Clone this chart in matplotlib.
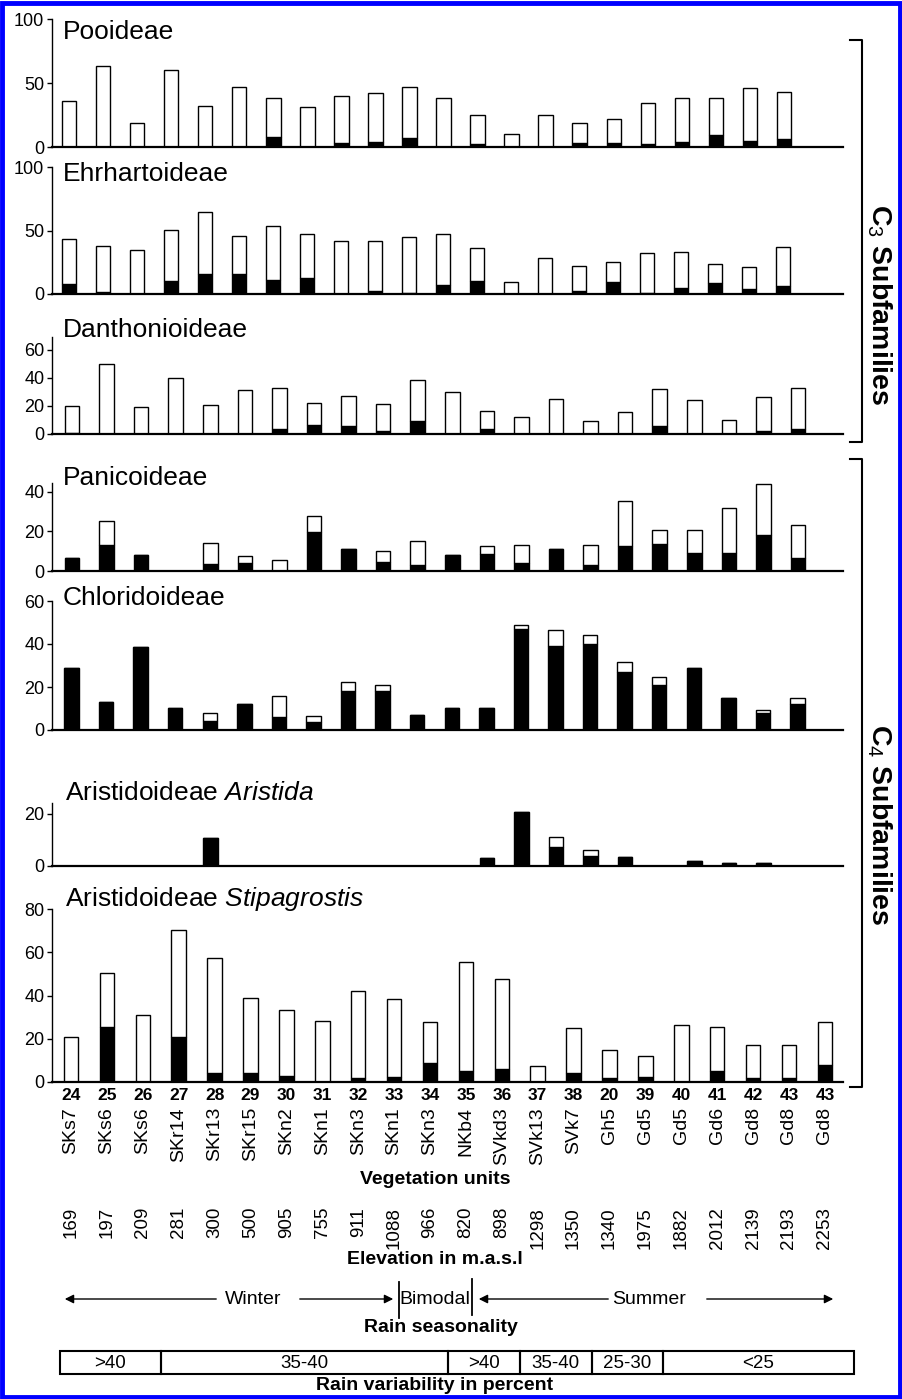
import matplotlib
matplotlib.use('Agg')
import matplotlib.pyplot as plt
import matplotlib.font_manager as fm
import matplotlib.transforms as mtransforms
from matplotlib.patches import Rectangle
import numpy as np

names = {f.name for f in fm.fontManager.ttflist}
base = 'Liberation Sans'
narrow = 'Liberation Sans Narrow' if 'Liberation Sans Narrow' in names else base
plt.rcParams['font.family'] = [base, 'DejaVu Sans']
plt.rcParams['mathtext.fontset'] = 'custom'
plt.rcParams['mathtext.rm'] = base + ':bold'
plt.rcParams['mathtext.bf'] = base + ':bold'

# categories (x axis)
plot_ids = ['24', '25', '26', '27', '28', '29', '30', '31', '32', '33', '34',
            '35', '36', '37', '38', '20', '39', '40', '41', '42', '43', '43']
veg_units = ['SKs7', 'SKs6', 'SKs6', 'SKr14', 'SKr13', 'SKr15', 'SKn2', 'SKn1',
             'SKn3', 'SKn1', 'SKn3', 'NKb4', 'SVkd3', 'SVk13', 'SVk7', 'Gh5',
             'Gd5', 'Gd5', 'Gd6', 'Gd8', 'Gd8', 'Gd8']
elevation = [169, 197, 209, 281, 300, 500, 905, 755, 911, 1088, 966, 820, 898,
             1298, 1350, 1340, 1975, 1882, 2012, 2139, 2193, 2253]

# totals and black (lower) part of each stacked bar
pooi_total = [36, 63, 19, 60, 32, 47, 38, 31, 40, 42, 47, 38, 25, 10, 25, 19, 22, 34, 38, 38, 46, 43]
pooi_black = [0, 0, 0, 0, 0, 0, 8, 0, 3, 4, 7, 0, 2.5, 0, 0, 3.5, 3.5, 2.5, 4, 9, 5, 6]
ehrh_total = [43, 38, 35, 50, 64.5, 46, 53.5, 47.5, 42, 42, 44.5, 47, 36, 9.5, 28.5, 22, 25, 32.5, 33, 23.5, 21.5, 37]
ehrh_black = [8, 1.5, 0, 10.5, 16, 15.5, 11, 12.5, 0, 2.5, 1, 7, 10.5, 0, 0, 2.5, 9.5, 1, 5, 8.5, 4, 6]
dant_total = [20, 50, 19, 40, 20.3, 31, 33, 22, 26.7, 21.3, 38.5, 30, 16.3, 11.8, 24.8, 9.2, 15.8, 32, 24, 10.2, 26.2, 33]
dant_black = [1, 0, 0, 0, 0, 0, 3.3, 6.6, 5.7, 2.4, 9.4, 0, 3.3, 0, 0, 0, 0, 5.7, 0, 0, 2.1, 3.3]
pani_total = [6.8, 25, 8, 0, 14, 7.8, 5.3, 28, 11.2, 10, 15.3, 8.1, 12.5, 13, 11.2, 13, 35.3, 20.8, 20.8, 32, 44, 23]
pani_black = [6.8, 13, 8, 0, 3.4, 4.2, 0, 19.5, 11.2, 4.6, 3.2, 8.1, 8.8, 4.2, 11.2, 2.9, 12.4, 13.6, 9.2, 9.3, 18.3, 6.6]
chlo_total = [29, 12.8, 38.6, 10.2, 7.9, 12, 16, 6.5, 22.3, 20.7, 7.1, 10.2, 10.4, 48.8, 46.4, 44.2, 31.5, 24.7, 28.9, 14.8, 9.1, 14.7]
chlo_black = [29, 12.8, 38.6, 10.2, 4, 12, 5.9, 3.7, 18.2, 18.2, 7.1, 10.2, 10.4, 47.1, 39, 40.2, 27.2, 20.7, 28.9, 14.8, 7.7, 12.2]
aris_total = [0, 0, 0, 0, 10.7, 0, 0, 0, 0, 0, 0, 0, 3, 20.5, 11, 6.1, 3.6, 0, 1.9, 1.2, 1.3, 0]
aris_black = [0, 0, 0, 0, 10.7, 0, 0, 0, 0, 0, 0, 0, 3, 20.5, 7.4, 4, 3.6, 0, 1.9, 1.2, 1.3, 0]
stip_total = [21, 50.3, 31, 70.4, 57.4, 38.9, 33.3, 28.2, 42.3, 38.2, 27.7, 55.6, 47.7, 7.4, 25.2, 14.9, 11.9, 26.5, 25.5, 17.3, 17.3, 27.9]
stip_black = [0, 25.5, 0, 20.6, 4, 4, 2.6, 0, 1.7, 2.3, 8.8, 5.3, 6, 0, 4.3, 1.7, 2.2, 0, 5.1, 2, 2, 7.7]

seasons = ['Winter', 'Bimodal', 'Summer']
variab_labels = ['>40', '35-40', '>40', '35-40', '25-30', '<25']
variab_counts = [3, 8, 2, 2, 2, 5]

W, H = 903, 1399
fig = plt.figure(figsize=(W / 100, H / 100), dpi=100)

# overlay in pixel coordinates for frame / brackets / annotations
ov = fig.add_axes([0, 0, 1, 1], zorder=5)
ov.set_xlim(0, W)
ov.set_ylim(H, 0)
ov.axis('off')
ov.patch.set_alpha(0)

x = np.arange(len(plot_ids))
AX_L, AX_R = 52, 843


def panel(total, black, top, zero, c0, step, ymax, yticks):
    ax = fig.add_axes([AX_L / W, 1 - zero / H, (AX_R - AX_L) / W, (zero - top) / H])
    ax.set_xlim((AX_L - c0) / step, (AX_R - c0) / step)
    ax.set_ylim(0, ymax)
    w = 14.5 / step
    total = np.array(total)
    black = np.array(black)
    ax.bar(x, black, w, color='black', edgecolor='black', linewidth=1.0)
    ax.bar(x, total - black, w, bottom=black, color='white', edgecolor='black', linewidth=1.0)
    for s in ['top', 'right']:
        ax.spines[s].set_visible(False)
    ax.spines['left'].set_linewidth(1.0)
    ax.spines['bottom'].set_linewidth(1.6)
    ax.spines['left'].set_bounds(0, ymax)
    ax.set_xticks([])
    ax.set_yticks(yticks)
    ax.tick_params(axis='y', length=3.5, width=1.0, pad=2, labelsize=13)
    for lab in ax.get_yticklabels():
        lab.set_fontfamily(narrow)
    ax.patch.set_alpha(0)
    return ax


specs = [
    (pooi_total, pooi_black, 19, 147, 69, 34.05, 100, [0, 50, 100], 32),
    (ehrh_total, ehrh_black, 167, 294, 69, 34.0, 100, [0, 50, 100], 174),
    (dant_total, dant_black, 337, 434, 72, 34.57, 69, [0, 20, 40, 60], 330),
    (pani_total, pani_black, 483, 571, 72, 34.57, 44.4, [0, 20, 40], 478),
    (chlo_total, chlo_black, 601, 730, 71.5, 34.57, 60, [0, 20, 40, 60], 598),
    (aris_total, aris_black, 803, 866, 72, 34.57, 24.1, [0, 20], 793),
    (stip_total, stip_black, 909, 1082, 71, 35.9, 80, [0, 20, 40, 60, 80], 899),
]
axes = []
for (tot, blk, top, zero, c0, step, ymax, yt, ty) in specs:
    axes.append(panel(tot, blk, top, zero, c0, step, ymax, yt))

plt.rcParams['mathtext.it'] = narrow + ':italic'
plt.rcParams['mathtext.rm'] = narrow
titles = ['Pooideae', 'Ehrhartoideae', 'Danthonioideae', 'Panicoideae', 'Chloridoideae',
          'Aristidoideae $\\mathit{Aristida}$', 'Aristidoideae $\\mathit{Stipagrostis}$']
for i, spec in enumerate(specs):
    tx = 63 if i < 5 else 65
    ov.text(tx, spec[-1], titles[i], fontsize=19, family=narrow, ha='left', va='center')

# category labels along the Stipagrostis scale
ax_st = axes[-1]
trans = mtransforms.blended_transform_factory(ax_st.transData, ov.transData)
for i in x:
    ax_st.text(i, 1095, plot_ids[i], transform=trans, ha='center', va='center',
               fontsize=12.5, fontweight='bold', family=narrow, clip_on=False)
    ax_st.text(i, 1107, veg_units[i], transform=trans, ha='center', va='top',
               rotation=90, fontsize=14, clip_on=False)
    ax_st.text(i, 1207, str(elevation[i]), transform=trans, ha='center', va='top',
               rotation=90, fontsize=13.5, clip_on=False)

ov.text(435, 1179, 'Vegetation units', ha='center', va='center', fontsize=14,
        fontweight='bold', family=narrow)
ov.text(435, 1259, 'Elevation in m.a.s.l', ha='center', va='center', fontsize=14,
        fontweight='bold', family=narrow)

# rain seasonality arrows
ay = 1299
arr = dict(arrowstyle='-|>', color='black', lw=1.0, mutation_scale=13)
ov.annotate('', xy=(62, ay), xytext=(219, ay), arrowprops=arr)
ov.annotate('', xy=(396, ay), xytext=(297, ay), arrowprops=arr)
ov.annotate('', xy=(476, ay), xytext=(611, ay), arrowprops=arr)
ov.annotate('', xy=(836, ay), xytext=(704, ay), arrowprops=arr)
ov.plot([399, 399], [1282, 1318], color='black', lw=1.3)
ov.plot([472, 472], [1279, 1315], color='black', lw=1.3)
ov.text(253, ay, seasons[0], ha='center', va='center', fontsize=14, family=narrow)
ov.text(435, ay, seasons[1], ha='center', va='center', fontsize=14, family=narrow)
ov.text(649, ay, seasons[2], ha='center', va='center', fontsize=14, family=narrow)
ov.text(441, 1327, 'Rain seasonality', ha='center', va='center', fontsize=14,
        fontweight='bold', family=narrow)

# rain variability box, split on category boundaries
edges = np.concatenate([[-0.3], np.cumsum(variab_counts) - 0.5])
edges[-1] = len(plot_ids) - 1 + 0.8
by0, by1 = 1351, 1374
for k, lab in enumerate(variab_labels):
    ax_st.add_patch(Rectangle((edges[k], by0), edges[k + 1] - edges[k], by1 - by0,
                              transform=trans, facecolor='none', edgecolor='black',
                              lw=1.5, clip_on=False))
    ax_st.text((edges[k] + edges[k + 1]) / 2, (by0 + by1) / 2 + 1, lab, transform=trans,
               ha='center', va='center', fontsize=13.5, family=narrow, clip_on=False)
ov.text(435, 1385, 'Rain variability in percent', ha='center', va='center', fontsize=14,
        fontweight='bold', family=narrow)

# C3 / C4 brackets
for (y0, y1, lab, yc) in [(40, 442, 'C$_3$ Subfamilies', 305), (459, 1087, 'C$_4$ Subfamilies', 825)]:
    ov.plot([850, 862, 862, 850], [y0, y0, y1, y1], color='black', lw=1.5)
    ov.text(879, yc, lab, rotation=270, ha='center', va='center', fontsize=20.5,
            fontweight='bold')

# blue frame
ov.add_patch(Rectangle((2.5, 2.5), W - 5, H - 5, facecolor='none', edgecolor='#0000ff', lw=3.5))

fig.savefig('out.png', dpi=100)
